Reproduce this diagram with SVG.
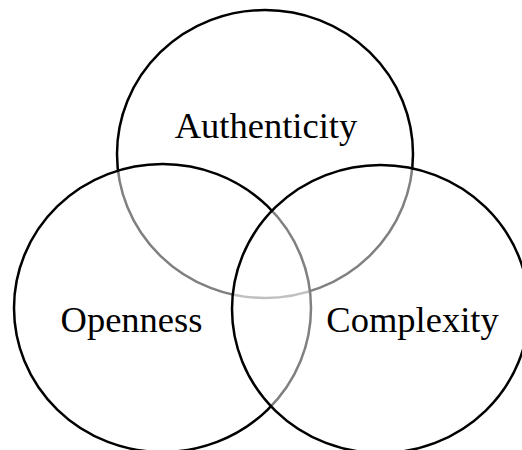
<svg xmlns="http://www.w3.org/2000/svg" width="522" height="450" viewBox="0 0 522 450">
<style>
.c{fill:#fff;fill-opacity:0.5;stroke:#000;stroke-width:2.5}
.t{font-family:"Liberation Serif","Times New Roman",serif;font-size:36.5px;fill:#000;text-anchor:middle}
</style>
<rect width="522" height="450" fill="#fff"/>
<g id="authenticity"><ellipse class="c" cx="265" cy="154" rx="148" ry="144"/></g>
<g id="openness"><ellipse class="c" cx="162.5" cy="308" rx="148.5" ry="144"/></g>
<g id="complexity"><ellipse class="c" cx="380.5" cy="309" rx="148.5" ry="144"/></g>
<g id="connectors"></g>
<g id="labels">
<text class="t" x="266" y="138">Authenticity</text>
<text class="t" x="131.5" y="332">Openness</text>
<text class="t" x="412.5" y="332">Complexity</text>
</g>
</svg>
